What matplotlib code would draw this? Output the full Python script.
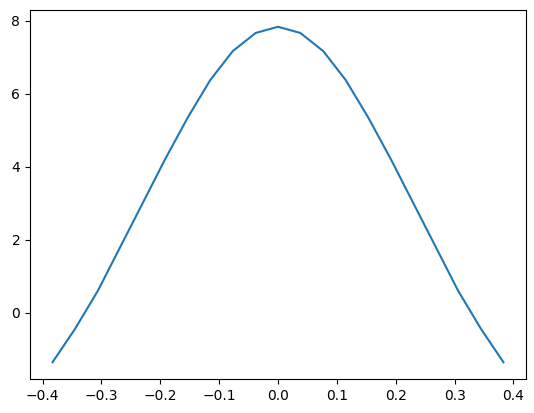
import matplotlib
matplotlib.use("Agg")
import matplotlib.pyplot as plt

# sample positions and values
x = [-0.383, -0.345, -0.306, -0.268, -0.230, -0.192, -0.153, -0.115, -0.077, -0.038, 0.0,
     0.038, 0.077, 0.115, 0.153, 0.192, 0.230, 0.268, 0.306, 0.345, 0.383]
y = [-1.36, -0.45, 0.60, 1.80, 3.00, 4.20, 5.36, 6.38, 7.17, 7.67, 7.84,
     7.67, 7.17, 6.38, 5.36, 4.20, 3.00, 1.80, 0.60, -0.45, -1.36]


def main():
    fig = plt.figure(figsize=(5.34, 4.13), dpi=100)
    ax = fig.add_axes([30 / 534, 34 / 413, 496 / 534, 369 / 413])
    ax.plot(x, y, color="#1f77b4", linewidth=1.5)
    fig.savefig("out.png", dpi=100)
    plt.close(fig)


if __name__ == "__main__":
    main()
